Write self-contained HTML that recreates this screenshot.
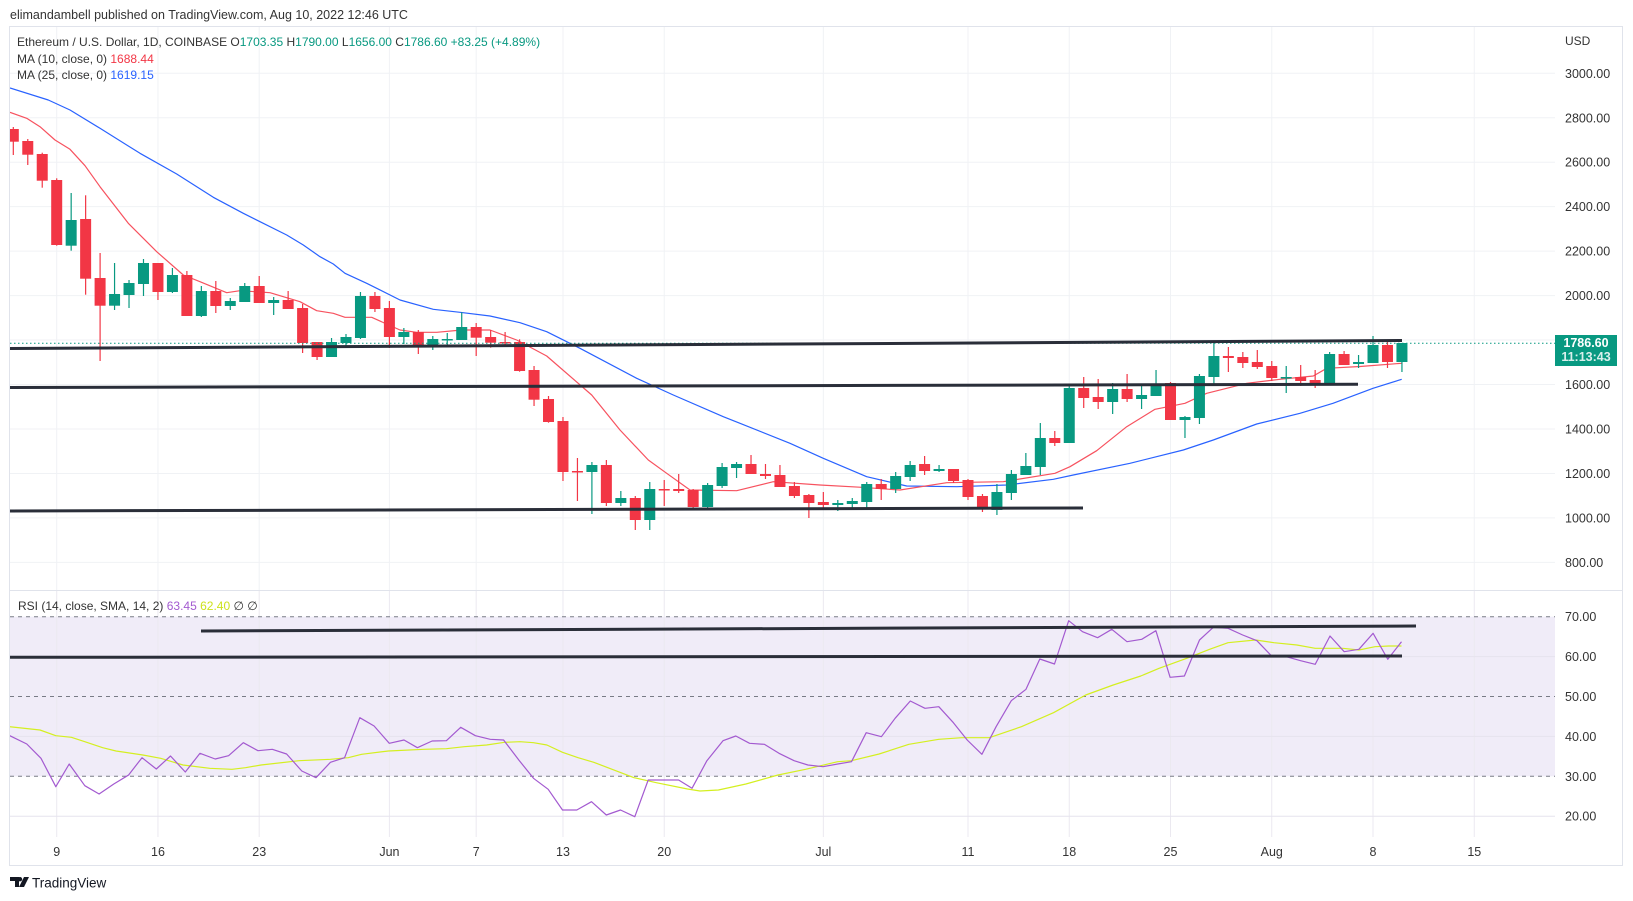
<!DOCTYPE html>
<html><head><meta charset="utf-8">
<style>
html,body{margin:0;padding:0;background:#fff;width:1633px;height:901px;overflow:hidden}
svg{display:block}
text{font-family:"Liberation Sans","DejaVu Sans",sans-serif}
</style></head>
<body>
<svg id="s" width="1633" height="901" xmlns="http://www.w3.org/2000/svg">
<defs>
<clipPath id="cm"><rect x="10" y="27" width="1545" height="563"/></clipPath>
<clipPath id="cr"><rect x="10" y="591" width="1545" height="246"/></clipPath>
</defs>
<text x="10" y="19" font-size="12.5" fill="#333">elimandambell published on TradingView.com, Aug 10, 2022 12:46 UTC</text>
<rect x="9.5" y="26.5" width="1613" height="839" fill="none" stroke="#e0e3eb"/>
<line x1="10" y1="590.5" x2="1622" y2="590.5" stroke="#e0e3eb"/>
<g id="grid"></g>
<rect x="10" y="616.7" width="1545" height="159.6" fill="#f0ecf8"/>
<g id="rgrid"></g>
<g id="main" clip-path="url(#cm)"></g>
<g id="rsi" clip-path="url(#cr)"></g>
<g id="labels"></g>
<text x="17" y="46" font-size="12" fill="#333">Ethereum / U.S. Dollar, 1D, COINBASE <tspan fill="#333">O</tspan><tspan fill="#089981">1703.35</tspan> <tspan fill="#333"> H</tspan><tspan fill="#089981">1790.00</tspan><tspan fill="#333">  L</tspan><tspan fill="#089981">1656.00</tspan><tspan fill="#333">  C</tspan><tspan fill="#089981">1786.60  +83.25 (+4.89%)</tspan></text>
<text x="17" y="63" font-size="12" fill="#333">MA (10, close, 0) <tspan fill="#f23645">1688.44</tspan></text>
<text x="17" y="79" font-size="12" fill="#333">MA (25, close, 0) <tspan fill="#2962ff">1619.15</tspan></text>
<text x="18" y="610" font-size="12" fill="#333">RSI (14, close, SMA, 14, 2) <tspan fill="#a35ad0">63.45</tspan> <tspan fill="#cde21c">62.40</tspan> <tspan fill="#333"> ∅  ∅</tspan></text>
<text x="1565" y="45" font-size="12" fill="#333">USD</text>
<rect x="1555" y="335" width="62" height="31" fill="#089981"/>
<text x="1586" y="347" font-size="12.5" font-weight="bold" fill="#fff" text-anchor="middle">1786.60</text>
<text x="1586" y="361" font-size="12.5" font-weight="bold" fill="#fff" text-anchor="middle" opacity="0.85">11:13:43</text>
<g transform="translate(10,876)">
<path d="M0 1 H9 V11 H5 V5 H0Z M10 1 A2.2 2.2 0 1 1 10 5.4 A2.2 2.2 0 1 1 10 1Z M14 1 H19 L14 11 H9Z" fill="#131722"/>
<text x="22" y="11.5" font-size="13.5" fill="#131722">TradingView</text>
</g>
</svg>
<script>
var NS="http://www.w3.org/2000/svg";
function el(p,t,a,txt){var e=document.createElementNS(NS,t);for(var k in a)e.setAttribute(k,a[k]);if(txt!=null)e.textContent=txt;document.getElementById(p).appendChild(e);return e;}
function X(d){return 56.7+14.465*d;}
function Y(p){return 73.3+(3000-p)*0.2223;}
function R(r){return 616.7+(70-r)*3.99;}
// grid verticals
var dates=[[0,"9"],[7,"16"],[14,"23"],[23,"Jun"],[29,"7"],[35,"13"],[42,"20"],[53,"Jul"],[63,"11"],[70,"18"],[77,"25"],[84,"Aug"],[91,"8"],[98,"15"]];
dates.forEach(function(a){var x=X(a[0]);
el("grid","line",{x1:x,y1:27,x2:x,y2:590,stroke:"#f0f2f5"});
el("rgrid","line",{x1:x,y1:591,x2:x,y2:837,stroke:"#ebe9f0"});
el("labels","text",{x:x,y:856,"font-size":12.5,fill:"#333","text-anchor":"middle"},a[1]);});
for(var p=800;p<=3000;p+=200){var y=Y(p);el("grid","line",{x1:10,y1:y,x2:1555,y2:y,stroke:"#f0f2f5"});
el("labels","text",{x:1565,y:y+4.5,"font-size":12.5,fill:"#333"},p+".00");}
[60,40,20].forEach(function(r){var y=R(r);el("rgrid","line",{x1:10,y1:y,x2:1555,y2:y,stroke:"#e6e3ee"});});
[70,50,30].forEach(function(r){var y=R(r);el("rgrid","line",{x1:10,y1:y,x2:1555,y2:y,stroke:"#787b86","stroke-dasharray":"4,4"});});
for(var r=20;r<=70;r+=10){el("labels","text",{x:1565,y:R(r)+4.5,"font-size":12.5,fill:"#333"},r+".00");}
// lines
function pl(g,pts,col,w,extra){var s=pts.map(function(p){return p[0]+","+p[1];}).join(" ");var a={points:s,fill:"none",stroke:col,"stroke-width":w,"stroke-linejoin":"round"};for(var k in extra)a[k]=extra[k];el(g,"polyline",a);}
// MA25
pl("main",[[10,88],[48.3,100],[70,110],[100,128.3],[140,153.3],[176.7,174],[213.3,197.3],[243.3,213.3],[260,221.7],[286.7,235],[303.3,245],[320,256.7],[333.3,264],[345,273.3],[366.7,283.3],[400,300],[433.3,309.3],[460,312.3],[490,316],[520,322.7],[546.7,331.7],[580,348.3],[636.7,378.3],[673.3,395],[723.3,416.7],[740,423.3],[790,443.3],[823.3,458.3],[866.7,476.7],[906.7,486],[956.7,486.7],[1006.7,485],[1053.3,479.3],[1073.3,475],[1130,463.3],[1183.3,450],[1213.3,440],[1256.7,424],[1300,413.3],[1333,403.3],[1373,388.3],[1401.7,379.3]],"#2962ff",1.2);
// MA10
pl("main",[[10,112.3],[26.7,118.3],[40,126.7],[55,140],[70,149.3],[85,165.7],[100,186.7],[128.3,223.3],[156.7,251.7],[183.3,275],[200,281.7],[226.7,292.7],[240,290.7],[270,292.7],[300,301.7],[316.7,310.7],[333.3,313.3],[345,317.3],[371.7,317.3],[400,330],[416.7,332.3],[436.7,332.3],[461.7,330],[490,330],[516.7,340],[546.7,356],[591.7,395],[620,430],[648.3,460],[666.7,473.3],[690,490],[736.7,490.7],[773.3,481.7],[820,485],[861.7,487.3],[900,490],[946.7,482.7],[1003.3,481.7],[1055,473.3],[1070,466.7],[1096.7,450.7],[1126.7,426.7],[1155,409.3],[1185,403.3],[1206.7,393.3],[1246.7,383.3],[1280,379.3],[1313.3,376],[1326.7,368.3],[1360,366.5],[1401.7,363.3]],"#f7525f",1.2);
// candles: d,type(1 green,0 red),bodyTop,bodyBot,wickTop,wickBot
var C=[[-3,0,129,141.7,127,155],[-2,0,141,154.7,139,165],[-1,0,154,180.7,152.7,187.7],[0,0,180,245,178.3,245.7],[1,1,220,245.7,193,250.7],[2,0,219,278.7,195.3,294.7],[3,0,278,305.7,253,361],[4,1,294,305.7,263,310],[5,1,283,295,280,308],[6,1,263,284,259,296],[7,0,263,292,263,300],[8,1,275,292,268,293],[9,0,275,316,271,316],[10,1,291,316,286,317],[11,0,291,306,281,313],[12,1,301,306,298,310],[13,1,286,302,283,302],[14,0,286,303,276,303],[15,1,300,303,297,315],[16,0,300,309,291,309],[17,0,308,343,304,353],[18,0,342,357,342,360],[19,1,342,357,338,357],[20,1,337,343,334,348],[21,1,296,338,292,339],[22,0,296,309,292,312],[23,0,308,337,301,348],[24,1,332,337,328,344],[25,0,332,347,330,354],[26,1,339,347,336,350],[27,1,339,340,333,346],[28,1,327,340,312.3,340],[29,0,327,337.7,323,356],[30,0,337,342.7,330,347.7],[31,0,342,343,332,345],[32,0,342,371,339.3,371.7],[33,0,370,399.7,366,406],[34,0,399,422,396,422.7],[35,0,421,472,417,481],[36,0,471,472,458,501],[37,1,465,472,462,514],[38,0,465,503,460,506],[39,1,498,503,491,506],[40,0,498,520,496,530],[41,1,489,520,482,530],[42,0,489,490,480,506],[43,0,489,491,474,493],[44,0,490,507,489,508],[45,1,485,507,483,508],[46,1,467,486,463,488],[47,1,464,468,462,478],[48,0,464,474,455,474],[49,0,474,476,464,479],[50,0,475,487,465,487],[51,0,486,496,482,498],[52,0,495,503,494,518],[53,0,502,505,492,510],[54,1,503,505,500,511],[55,1,501,504,498,509],[56,1,484,502,482,509],[57,0,484,489,479,500],[58,1,476,489,472,493],[59,1,465,477,461,481],[60,0,464,471,456,475],[61,1,469,471,465,472],[62,0,469,481,469,483],[63,0,480,497,479,500],[64,0,496,509,494,512],[65,1,492,510,484,515],[66,1,474,493,470,500],[67,1,466,475,453,475],[68,1,438,467,423,475],[69,0,438,443,431,446],[70,1,388,443,385,443],[71,0,388,398,377,408],[72,0,397,402,379,409],[73,1,389,402,383,414],[74,0,389,399,374,402],[75,1,395,399,385,409],[76,1,384,396,370,396],[77,0,383,420,382,420],[78,1,417,420,416,438],[79,1,376,418,374,424],[80,1,356,377,341,386],[81,0,356,358,347,372],[82,0,357,363,352,368],[83,0,362,367,350,369],[84,0,366,378,361,381],[85,1,377,378,366,393],[86,0,377,381,365,386],[87,0,380,383,370,388],[88,1,354,383,352,383],[89,0,354,365,351,365],[90,1,362,364,355,368],[91,1,345,363,336,363],[92,0,345,362,341,368],[93,1,343,362,343,372]];
C.forEach(function(c){var x=X(c[0]);var col=c[1]?"#089981":"#f23645";
el("main","line",{x1:x,y1:c[4],x2:x,y2:c[5],stroke:col,"stroke-width":1.2});
var h=Math.max(c[3]-c[2],1.5);el("main","rect",{x:x-5.5,y:c[2],width:11,height:h,fill:col});});
// horizontal support lines
function bl(g,x1,y1,x2,y2){el(g,"line",{x1:x1,y1:y1,x2:x2,y2:y2,stroke:"#2a2e39","stroke-width":3});}
el("main","line",{x1:10,y1:343.3,x2:1555,y2:343.3,stroke:"#089981","stroke-dasharray":"1.5,2.5","stroke-width":1});
bl("main",10,348.5,1402,340.5);
bl("main",10,387.5,1358,384.3);
bl("main",10,511,1083,508);
// RSI SMA
pl("rsi",[[9.8,726.7],[40,730],[55.8,735.7],[71.4,737.3],[84.8,741.7],[102.7,747.7],[116,751],[142.9,755],[160.7,758.3],[183,765],[209.8,768.3],[232,769.3],[245.5,767.7],[261,765],[299,760.7],[330.4,759.3],[348.2,757.7],[361.6,754.3],[388.4,751],[424,749.3],[446.4,748.7],[464.3,746.7],[486.6,745],[504.5,742.3],[520,741.7],[533.5,742.7],[546.9,745],[562.5,752.3],[578.1,757.7],[593.8,762.3],[634,777.7],[656.3,782.7],[687.5,789],[700,791],[718.4,790],[745.9,784],[778,775],[805.6,769.3],[837.7,761.7],[851.5,760.7],[879.1,754],[908.9,744.3],[938.8,739.3],[961.7,737.7],[989.3,737.7],[1021.4,726.7],[1053.5,712.7],[1085.7,695],[1113.2,685],[1140.8,676],[1159.1,668.3],[1186.7,658.3],[1209.6,649.3],[1228,642.7],[1255.5,640],[1273.9,642.7],[1296.9,645],[1315.2,648.3],[1342.8,648.3],[1358.9,650],[1375,646.7],[1388.7,646],[1401.5,646]],"#d4ef20",1.2);
// RSI
pl("rsi",[[9.8,735.7],[26.8,744],[41,758.3],[55.8,786.7],[69.2,764],[84.8,785.7],[99.1,794],[113.8,784],[128.6,775],[142,757.7],[156.3,769],[170.5,756],[185.3,772],[200,753.3],[215.2,759],[228.6,755.7],[243.3,742.7],[258,750.7],[272.3,749.3],[286.6,754],[301.8,771],[316,777.7],[330.4,762.3],[344.6,757.7],[359.8,717.7],[374.1,726],[389.3,743.3],[404,740],[417.4,747.7],[432.1,741],[446.4,740.7],[460.7,727.3],[475.4,735.7],[490.2,739.3],[503.6,740],[518.8,760],[533.5,778.3],[548.2,789.3],[562.5,810],[576.8,810],[591.5,801.7],[606.3,815],[620.5,810],[634.8,816.7],[648.2,780],[663,780],[678.6,780],[692,788.3],[706.9,760.7],[723,740.7],[735.8,736],[749.6,743.3],[764.3,744.3],[779,753.3],[794.1,760.7],[807.9,765],[823,766.7],[837.7,764],[851.5,761.7],[866.2,732.7],[881.4,736.7],[895.1,718.3],[910.3,701],[925,708.3],[938.8,706.7],[953.4,722.7],[967.2,740],[981.9,754.3],[996.1,726.7],[1011.3,700.7],[1026,689.3],[1039.8,659],[1054.5,664],[1068.7,620.7],[1082.5,631.7],[1097.6,637.7],[1111.8,629.3],[1127,641.7],[1141.7,639.3],[1155.9,630.7],[1170.1,677.3],[1184.4,676],[1199.5,640],[1213.3,627.3],[1228,628.3],[1242.7,635],[1256.9,640.7],[1271.6,656],[1286.3,656.7],[1300.6,660.7],[1315.2,664.3],[1330,636],[1344.2,651.7],[1358.9,649.3],[1373.1,633.3],[1387.8,659.3],[1401.5,641.7]],"#a35ad0",1.2);
bl("rsi",201,631,1416,626);
bl("rsi",10,657.3,1402,656);
</script>
</body></html>
